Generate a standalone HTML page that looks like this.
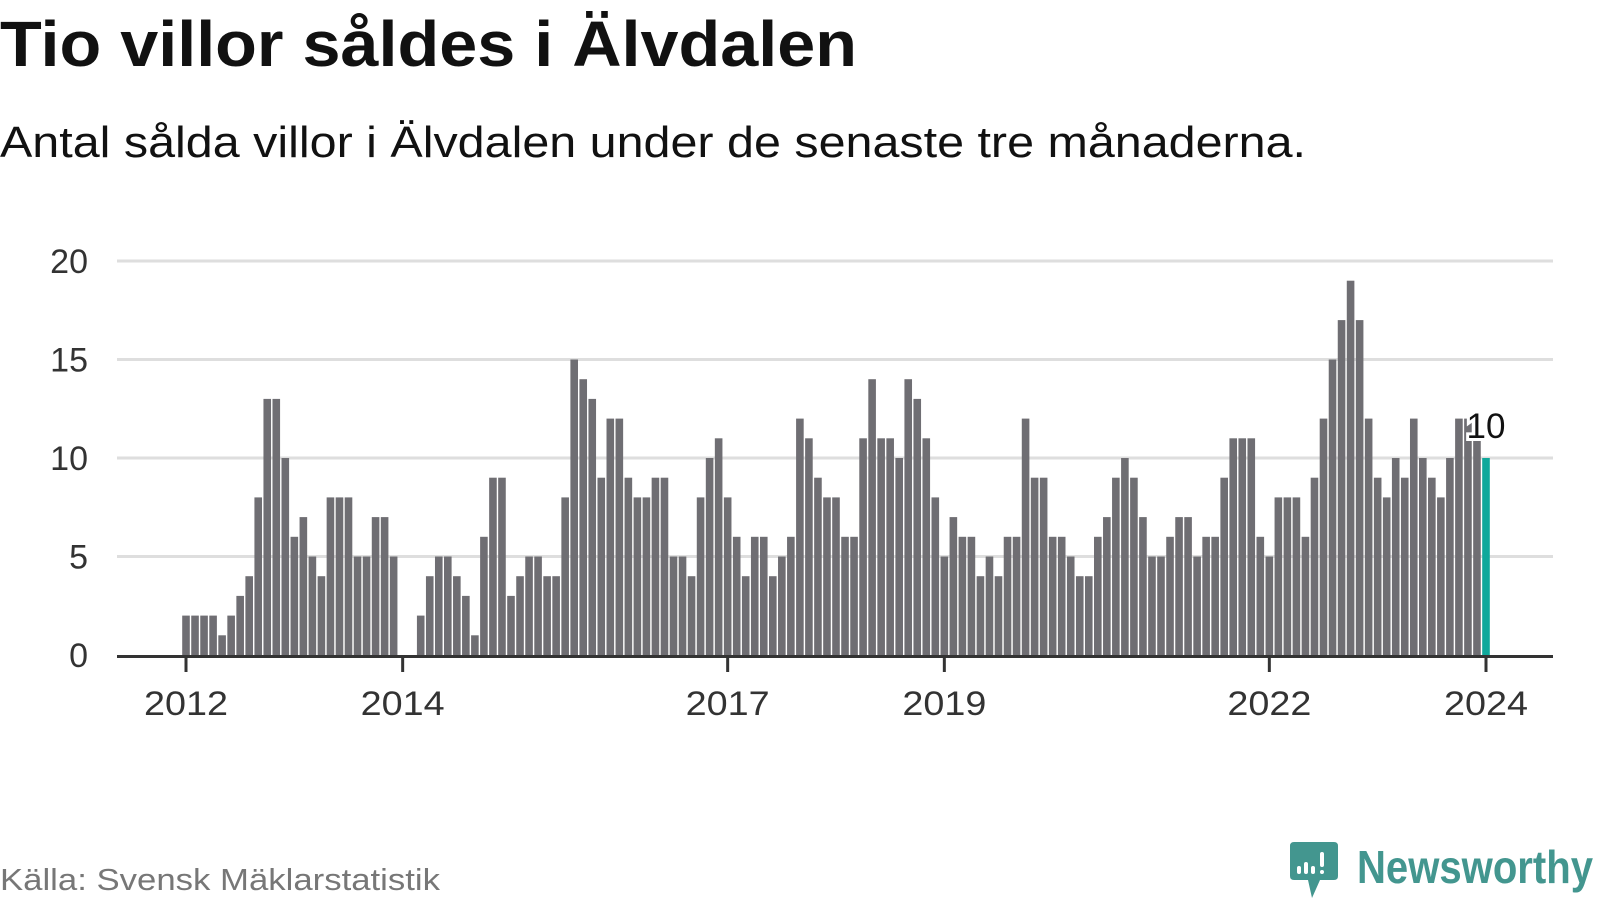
<!DOCTYPE html>
<html><head><meta charset="utf-8"><style>
html,body{margin:0;padding:0;background:#fff;}
svg{display:block;font-family:"Liberation Sans",sans-serif;}
</style></head><body>
<svg id="chart" width="1600" height="900" viewBox="0 0 1600 900">
<text x="0" y="66" font-size="64" font-weight="bold" fill="#111" textLength="857" lengthAdjust="spacingAndGlyphs">Tio villor såldes i Älvdalen</text>
<text x="0" y="157" font-size="44" fill="#111" textLength="1306" lengthAdjust="spacingAndGlyphs">Antal sålda villor i Älvdalen under de senaste tre månaderna.</text>
<g id="grid"></g>
<g id="bars"></g>
<g id="axes"></g>
<text x="0" y="890" font-size="31" fill="#777" textLength="440" lengthAdjust="spacingAndGlyphs">Källa: Svensk Mäklarstatistik</text>
<g>
<path d="M1294 842 H1334 Q1338 842 1338 846 V876 Q1338 880 1334 880 H1320 L1312 898 L1308 880 H1294 Q1290 880 1290 876 V846 Q1290 842 1294 842 Z" fill="#43968f"/>
<rect x="1297" y="866" width="4" height="8" rx="2" fill="#fff"/>
<rect x="1304" y="862" width="4" height="12" rx="2" fill="#fff"/>
<rect x="1311" y="866" width="4" height="8" rx="2" fill="#fff"/>
<rect x="1320" y="852" width="4" height="15" rx="2" fill="#fff"/>
<rect x="1320" y="870" width="4" height="4" rx="2" fill="#fff"/>
<text x="1357" y="883" font-size="46" font-weight="bold" fill="#43968f" textLength="236" lengthAdjust="spacingAndGlyphs">Newsworthy</text>
</g>
</svg>
<script>
const years = [2012,2013,2014,2015,2016,2017,2018,2019,2020,2021,2022,2023,2024];
const yTicks = [0,5,10,15,20];
const xTickYears = [2012,2014,2017,2019,2022,2024];
const values = [
2,2,2,2,1,2,3,4,8,13,13,10,
6,7,5,4,8,8,8,5,5,7,7,5,
0,0,2,4,5,5,4,3,1,6,9,9,
3,4,5,5,4,4,8,15,14,13,9,12,
12,9,8,8,9,9,5,5,4,8,10,11,
8,6,4,6,6,4,5,6,12,11,9,8,
8,6,6,11,14,11,11,10,14,13,11,8,
5,7,6,6,4,5,4,6,6,12,9,9,
6,6,5,4,4,6,7,9,10,9,7,5,
5,6,7,7,5,6,6,9,11,11,11,6,
5,8,8,8,6,9,12,15,17,19,17,12,
9,8,10,9,12,10,9,8,10,12,12,11,
10];
const NS="http://www.w3.org/2000/svg";
const x0=186, mw=(1486-186)/144, y0=655, yu=(655-261)/20;
function xScale(i){return x0+i*mw;}
function xYear(yr){return xScale((yr-2012)*12);}
function yScale(v){return y0-v*yu;}
function mk(tag,attrs,parent){const e=document.createElementNS(NS,tag);for(const k in attrs)e.setAttribute(k,attrs[k]);parent.appendChild(e);return e;}
const grid=document.getElementById('grid'),bars=document.getElementById('bars'),axes=document.getElementById('axes');
yTicks.forEach(t=>{
  if(t>0){const l=mk('line',{x1:117,x2:1553,y1:yScale(t),y2:yScale(t),stroke:'#dedede','stroke-width':3},grid);
  
  }
  const tx=mk('text',{x:88,y:yScale(t)+12,'font-size':34,fill:'#333','text-anchor':'end'},axes);
  tx.textContent=t;
  
  
});
const last=values.length-1;
values.forEach((v,i)=>{
  if(v<=0)return;
  const r=mk('rect',{x:xScale(i)-3.8,y:yScale(v),width:7.6,height:y0-yScale(v),fill:i===last?'#0fa89b':'#6f6e73'},bars);
  
  
});
const al=mk('line',{x1:117,x2:1553,y1:y0+1.5,y2:y0+1.5,stroke:'#333','stroke-width':3},axes);


xTickYears.forEach(yr=>{
  const x=xYear(yr);
  const tk=mk('line',{x1:x,x2:x,y1:y0,y2:y0+17,stroke:'#333','stroke-width':3},axes);
  
  
  const tx=mk('text',{x:x-42,y:715,'font-size':34,fill:'#333',textLength:84,lengthAdjust:'spacingAndGlyphs'},axes);
  tx.textContent=yr;
  
  
});
const lab=mk('text',{x:xScale(last),y:yScale(values[last])-20,'font-size':35,fill:'#111','text-anchor':'middle',stroke:'#fff','stroke-width':6,'paint-order':'stroke'},axes);
lab.textContent=values[last];


</script>
</body></html>
